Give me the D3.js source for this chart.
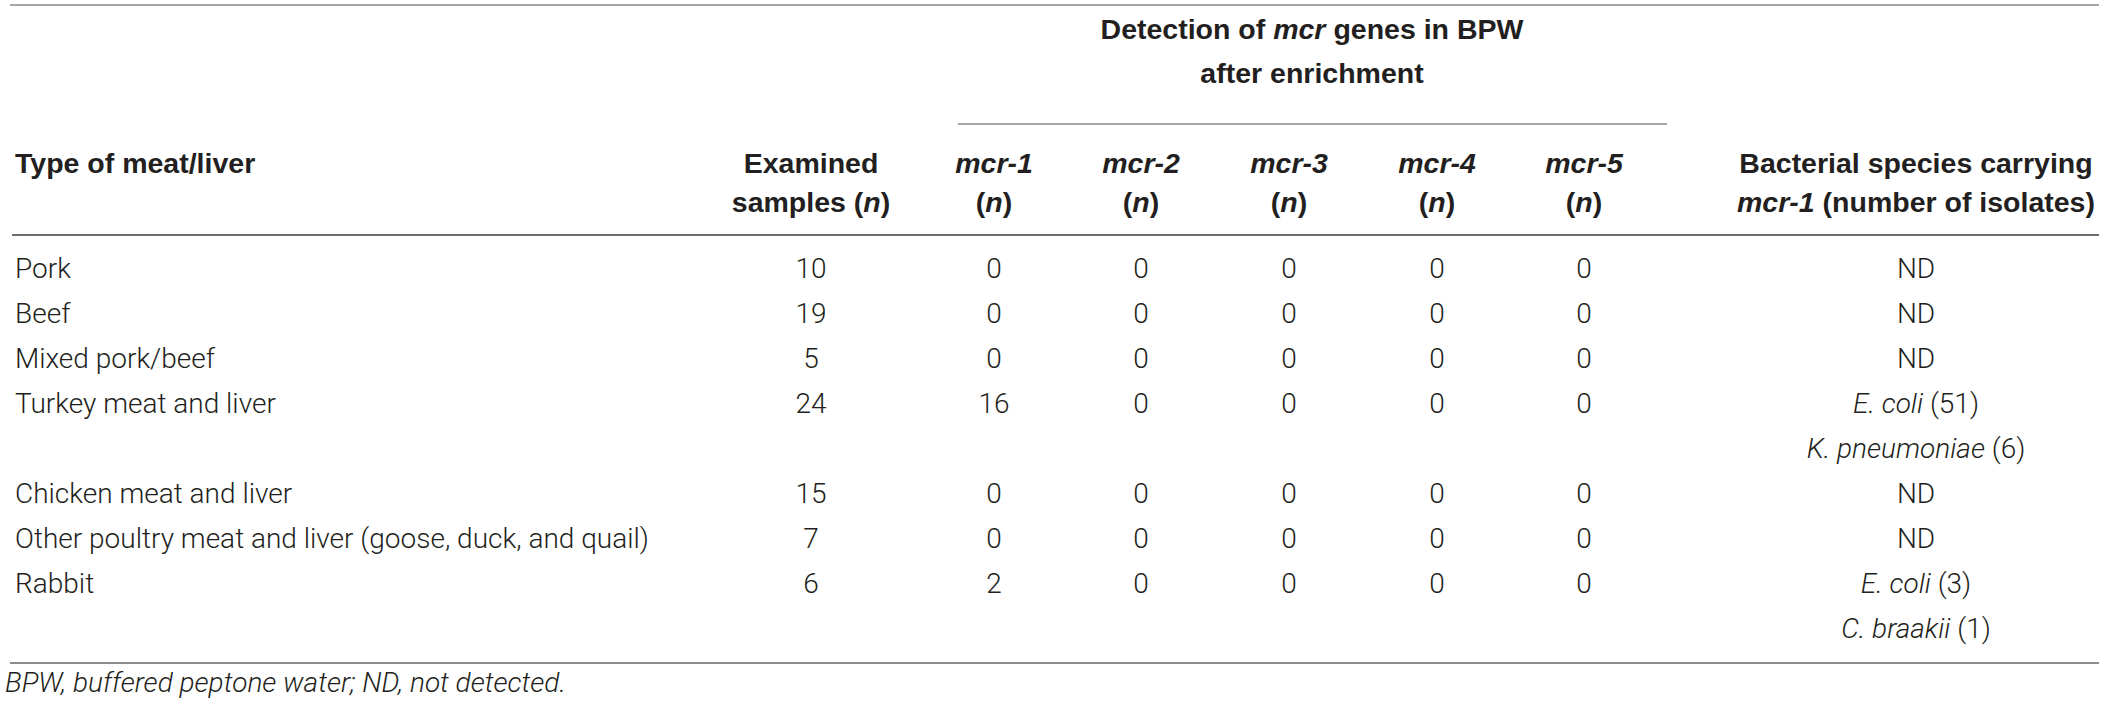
<!DOCTYPE html>
<html>
<head>
<meta charset="utf-8">
<script src="https://cdn.jsdelivr.net/npm/d3@7"></script>
<style>
  body { margin: 0; background: #fff; }
  svg text { fill: #231f20; }
  .head { font-family: "Liberation Sans", Arial, sans-serif; font-weight: bold; font-size: 28.5px; }
  .cell { font-family: Roboto, "Liberation Sans", sans-serif; font-weight: 300; font-size: 28px; }
</style>
</head>
<body>
<div id="table"></div>
<script>
// table values
var meatTypes = ["Pork", "Beef", "Mixed pork/beef", "Turkey meat and liver",
  "Chicken meat and liver", "Other poultry meat and liver (goose, duck, and quail)", "Rabbit"];
var examined = [10, 19, 5, 24, 15, 7, 6];
var genes = ["mcr-1", "mcr-2", "mcr-3", "mcr-4", "mcr-5"];
var mcr1 = [0, 0, 0, 16, 0, 0, 2];
var mcr2 = [0, 0, 0, 0, 0, 0, 0];
var mcr3 = [0, 0, 0, 0, 0, 0, 0];
var mcr4 = [0, 0, 0, 0, 0, 0, 0];
var mcr5 = [0, 0, 0, 0, 0, 0, 0];
// species carrying mcr-1: [name, isolates]; empty = not detected
var species = [[], [], [], [["E. coli", 51], ["K. pneumoniae", 6]], [], [], [["E. coli", 3], ["C. braakii", 1]]];
var footnote = "BPW, buffered peptone water; ND, not detected.";

var geneValues = [mcr1, mcr2, mcr3, mcr4, mcr5];

var width = 2104, height = 710;

var svg = d3.select("#table").append("svg")
  .attr("width", width)
  .attr("height", height);

// column centres
var colKeys = ["examined"].concat(genes).concat(["species"]);
var x = d3.scaleOrdinal()
  .domain(colKeys)
  .range([811, 994, 1141, 1289, 1437, 1584, 1916]);
var leftX = 15;

// body text lines (a row takes 2 lines when two species are listed)
var rowStart = [];
var line = 0;
meatTypes.forEach(function(d, i) {
  rowStart.push(line);
  line += Math.max(1, species[i].length);
});
var y = d3.scaleLinear().domain([0, 1]).range([278, 323]);

// rules
var rules = [
  { x1: 10, x2: 2099, y: 5, c: "#a6a6a6" },
  { x1: 958, x2: 1667, y: 124, c: "#a6a6a6" },
  { x1: 12, x2: 2099, y: 235, c: "#6e6e6e" },
  { x1: 10, x2: 2099, y: 663, c: "#8c8c8c" }
];
svg.selectAll(".rule")
  .data(rules)
  .enter().append("line")
  .attr("class", "rule")
  .attr("x1", function(d) { return d.x1; })
  .attr("x2", function(d) { return d.x2; })
  .attr("y1", function(d) { return d.y; })
  .attr("y2", function(d) { return d.y; })
  .style("stroke", function(d) { return d.c; })
  .style("stroke-width", 2);

// helper: text made of [string, italic] parts
function richText(sel, parts) {
  parts.forEach(function(p) {
    sel.append("tspan")
      .style("font-style", p[1] ? "italic" : "normal")
      .text(p[0]);
  });
}

function headText(xpos, ypos, anchor, parts) {
  var t = svg.append("text")
    .attr("class", "head")
    .attr("x", xpos)
    .attr("y", ypos)
    .attr("text-anchor", anchor);
  richText(t, parts);
}

// header
headText(1312, 39, "middle", [["Detection of ", false], ["mcr", true], [" genes in BPW", false]]);
headText(1312, 83, "middle", [["after enrichment", false]]);
headText(leftX, 173, "start", [["Type of meat/liver", false]]);
headText(x("examined"), 173, "middle", [["Examined", false]]);
headText(x("examined"), 212, "middle", [["samples (", false], ["n", true], [")", false]]);
genes.forEach(function(g) {
  headText(x(g), 173, "middle", [[g, true]]);
  headText(x(g), 212, "middle", [["(", false], ["n", true], [")", false]]);
});
headText(x("species"), 173, "middle", [["Bacterial species carrying", false]]);
headText(x("species"), 212, "middle", [["mcr-1", true], [" (number of isolates)", false]]);

// body rows
var rows = svg.selectAll(".row")
  .data(meatTypes)
  .enter().append("g")
  .attr("class", "row");

rows.append("text")
  .attr("class", "cell")
  .attr("x", leftX)
  .attr("y", function(d, i) { return y(rowStart[i]); })
  .text(function(d) { return d; });

rows.append("text")
  .attr("class", "cell")
  .attr("x", x("examined"))
  .attr("y", function(d, i) { return y(rowStart[i]); })
  .attr("text-anchor", "middle")
  .text(function(d, i) { return examined[i]; });

genes.forEach(function(g, gi) {
  rows.append("text")
    .attr("class", "cell")
    .attr("x", x(g))
    .attr("y", function(d, i) { return y(rowStart[i]); })
    .attr("text-anchor", "middle")
    .text(function(d, i) { return geneValues[gi][i]; });
});

rows.each(function(d, i) {
  var g = d3.select(this);
  var list = species[i].length ? species[i] : [null];
  list.forEach(function(s, k) {
    var t = g.append("text")
      .attr("class", "cell")
      .attr("x", x("species"))
      .attr("y", y(rowStart[i] + k))
      .attr("text-anchor", "middle");
    if (s == null) {
      t.text("ND");
    } else {
      richText(t, [[s[0], true], [" (" + s[1] + ")", false]]);
    }
  });
});

// footnote
svg.append("text")
  .attr("class", "cell")
  .attr("x", 5)
  .attr("y", 692)
  .style("font-style", "italic")
  .text(footnote);
</script>
</body>
</html>
